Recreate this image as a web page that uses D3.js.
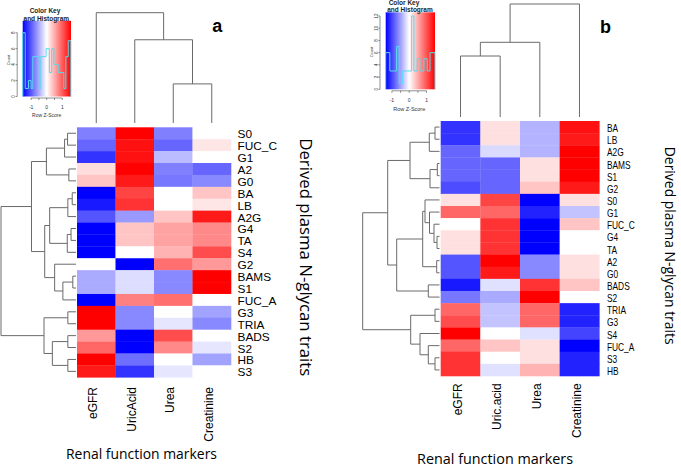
<!DOCTYPE html>
<html><head><meta charset="utf-8">
<script src="https://cdn.jsdelivr.net/npm/d3@7"></script>
<style>body{margin:0;background:#fff}svg{display:block}</style>
</head><body>
<svg id="c" width="681" height="468"></svg>
<script>
// ---------- Panel a data ----------
const colsA = ["eGFR","UricAcid","Urea","Creatinine"];
const rowsA = ["S0","FUC_C","G1","A2","G0","BA","LB","A2G","G4","TA","S4","G2","BAMS","S1","FUC_A","G3","TRIA","BADS","S2","HB","S3"];
const valsA = [
 [-0.75, 1.5, -0.75, 0],
 [-0.9, 1.4, -0.9, 0.15],
 [-1.2, 1.4, -0.4, 0],
 [0.2, 1.5, -0.75, -0.9],
 [0.35, 1.35, -0.8, -0.7],
 [-1.5, 1.1, 0, 0.35],
 [-1.35, 1.2, 0, 0.15],
 [-1.0, -0.6, 0.35, 1.35],
 [-1.5, 0.35, 0.55, 0.7],
 [-1.5, 0.35, 0.55, 0.7],
 [-1.5, 0, 0.45, 1.05],
 [0, -1.5, 0.85, 0.6],
 [-0.5, -0.2, -0.7, 1.5],
 [-0.5, -0.2, -0.7, 1.5],
 [-1.5, 0.75, 0.85, 0],
 [1.5, -0.7, 0, -0.55],
 [1.5, -0.7, -0.15, -0.7],
 [0.6, -1.5, 1.05, 0],
 [0.9, -1.5, 0.7, -0.15],
 [1.5, -0.85, 0, -0.55],
 [1.35, -1.2, -0.15, 0]
];
// dendrograms: [height, left, right]
const rowTreeA = [75.5,
  [44.8,
    [29.8, [11.5, [8.5,"S0","FUC_C"], "G1"], [7.2,"A2","G0"]],
    [31.5,
      [26.5, [8.2,[3.8,"BA","LB"],"A2G"], [8.8,[5,"G4","TA"],"S4"]],
      [21.5, "G2", [13.2,[3.2,"BAMS","S1"],"FUC_A"]]]],
  [32.2, [8.2,"G3","TRIA"], [23.8,[8.2,"BADS","S2"],[8.2,"HB","S3"]]]];
const colTreeA = [110, "eGFR", [83, "UricAcid", [39, "Urea", "Creatinine"]]];
const histEdgesA = [-1.53,-1.38,-1.17,-1.0,-0.89,-0.47,-0.38,-0.04,0.17,0.32,0.46,0.74,1.1,1.23,1.38,1.55];
const histCountsA = [8,1,2,1,5,1,5,6,3,6,4,3,1,5,7];
const keyTicksYA = [0,2,4,6,8];

// ---------- Panel b data ----------
const colsB = ["eGFR","Uric.acid","Urea","Creatinine"];
const rowsB = ["BA","LB","A2G","BAMS","S1","G2","S0","G1","FUC_C","G4","TA","A2","G0","BADS","S2","TRIA","G3","S4","FUC_A","S3","HB"];
const valsB = [
 [-1.2, 0.18, -0.45, 1.4],
 [-1.2, 0.18, -0.45, 1.35],
 [-0.9, -0.22, -0.45, 1.5],
 [-0.9, -0.9, 0.18, 1.5],
 [-0.9, -0.9, 0.18, 1.5],
 [-1.05, -0.9, 0.35, 1.35],
 [0.18, 1.1, -1.5, 0.18],
 [0.9, 0.9, -1.3, -0.35],
 [0, 1.2, -1.5, 0.35],
 [0.18, 1.2, -1.5, 0],
 [0.18, 1.2, -1.5, 0],
 [-1.0, 1.5, -0.7, 0.18],
 [-1.0, 1.35, -0.7, 0.18],
 [-1.35, -0.18, 1.2, 0.35],
 [-0.8, -0.5, 1.5, 0],
 [0.9, -0.35, 0.9, -1.3],
 [1.05, -0.35, 0.9, -1.3],
 [1.5, 0, -0.18, -1.1],
 [0.9, 0.35, 0.18, -1.5],
 [1.2, 0, 0.18, -1.3],
 [1.2, -0.18, 0.45, -1.3]
];
const rowTreeB = [76.8,
  [51.8,
    [29.5, [10.2,[4.5,"BA","LB"],"A2G"], [9.5,[2.2,"BAMS","S1"],"G2"]],
    [42.8,
      [16.8, [14.5,"S0",[10,"G1",[5.5,"FUC_C",[2.5,"G4","TA"]]]], [2.8,"A2","G0"]],
      [11.2,"BADS","S2"]]],
  [28.8, [4.5,"TRIA","G3"], [19.5,"S4",[11.2,"FUC_A",[4.5,"S3","HB"]]]]];
const colTreeB = [113, [74.7, [61, "eGFR", "Uric.acid"], "Urea"], "Creatinine"];
const histEdgesB = [-1.36,-1.12,-0.73,-0.58,-0.38,-0.25,0.14,0.27,0.46,0.62,0.85,1.04,1.2,1.49];
const histCountsB = [6,3,7,1,3,3,12,3,5,3,5,3,6];
const keyTicksYB = [0,2,4,6,8,10,12];

const keyTicksX = [-1,-0.5,0,0.5,1];
const xTitle = "Renal function markers";
const yTitle = "Derived plasma N-glycan traits";

// ---------- drawing ----------
const svg = d3.select("#c");
const color = d3.scaleLinear().domain([-1.5,0,1.5]).range(["#0000ff","#ffffff","#ff0000"]).clamp(true);
const LF = "Liberation Sans, Arial, sans-serif";
const DC = "#6a6a6a";
const defs = svg.append("defs");

function heat(cfg){
  const x = d3.scaleBand().domain(cfg.cols).range(cfg.xr);
  const y = d3.scaleBand().domain(cfg.rows).range(cfg.yr);
  const g = svg.append("g");
  cfg.rows.forEach((r,i)=>{
    cfg.cols.forEach((c,j)=>{
      g.append("rect").attr("x",x(c)).attr("y",y(r))
       .attr("width",x.bandwidth()+0.3).attr("height",y.bandwidth()+0.3)
       .attr("fill",color(cfg.vals[i][j]));
    });
  });
  // row labels
  cfg.rows.forEach(r=>{
    g.append("text").attr("transform",`translate(${cfg.labX},${y(r)+y.bandwidth()/2+cfg.labDy}) scale(${cfg.labSx},1)`)
     .attr("font-family",LF).attr("font-size",cfg.labFs).attr("fill","#000").text(r);
  });
  // column labels
  cfg.cols.forEach(c=>{
    g.append("text").attr("transform",`translate(${x(c)+x.bandwidth()/2+cfg.colDx},${cfg.colTop}) rotate(-90)`)
     .attr("text-anchor","end").attr("font-family",LF).attr("font-size",12).attr("fill","#000").text(c);
  });
  // row dendrogram
  const rx = d3.scaleLinear().domain([0,cfg.rowTree[0]]).range(cfg.rdx);
  const yOf = n => y(n)+y.bandwidth()/2;
  let d = "";
  (function rec(node){
    if (typeof node === "string") return {p:yOf(node),h:0};
    const a = rec(node[1]), b = rec(node[2]);
    d += `M${rx(a.h)},${a.p}H${rx(node[0])}V${b.p}H${rx(b.h)}`;
    return {p:(a.p+b.p)/2,h:node[0]};
  })(cfg.rowTree);
  g.append("path").attr("d",d).attr("fill","none").attr("stroke",DC).attr("stroke-width",1);
  // column dendrogram
  const cy = d3.scaleLinear().domain([0,cfg.colTree[0]]).range(cfg.cdy);
  const xOf = n => x(n)+x.bandwidth()/2;
  let d2 = "";
  (function rec(node){
    if (typeof node === "string") return {p:xOf(node),h:0};
    const a = rec(node[1]), b = rec(node[2]);
    d2 += `M${a.p},${cy(a.h)}V${cy(node[0])}H${b.p}V${cy(b.h)}`;
    return {p:(a.p+b.p)/2,h:node[0]};
  })(cfg.colTree);
  g.append("path").attr("d",d2).attr("fill","none").attr("stroke",DC).attr("stroke-width",1);
}

function key(cfg){
  const g = svg.append("g");
  const kx = d3.scaleLinear().domain(cfg.zr).range(cfg.bx);
  const ky = d3.scaleLinear().domain([0,cfg.cmax]).range(cfg.by);
  const gid = "grad"+cfg.id;
  const gr = defs.append("linearGradient").attr("id",gid);
  const z0 = (kx(0)-cfg.bx[0])/(cfg.bx[1]-cfg.bx[0]);
  gr.append("stop").attr("offset",0).attr("stop-color","#0000ff");
  gr.append("stop").attr("offset",z0).attr("stop-color","#ffffff");
  gr.append("stop").attr("offset",1).attr("stop-color","#ff0000");
  g.append("rect").attr("x",cfg.bx[0]).attr("y",ky(cfg.boxTop)).attr("width",cfg.bx[1]-cfg.bx[0])
   .attr("height",ky(0)-ky(cfg.boxTop)).attr("fill",`url(#${gid})`);
  // histogram step
  let d = `M${kx(cfg.edges[0])},${ky(0)}`;
  cfg.counts.forEach((c,i)=>{ d += `V${ky(c)}H${kx(cfg.edges[i+1])}`; });
  d += `V${ky(0)}`;
  g.append("path").attr("d",d).attr("fill","none").attr("stroke","#55dcec").attr("stroke-width",1);
  // x axis
  const ay = ky(0)+cfg.axOff;
  g.append("line").attr("x1",kx(-1)).attr("x2",kx(1)).attr("y1",ay).attr("y2",ay).attr("stroke","#444").attr("stroke-width",0.6);
  keyTicksX.forEach(t=>{
    g.append("line").attr("x1",kx(t)).attr("x2",kx(t)).attr("y1",ay).attr("y2",ay+2).attr("stroke","#444").attr("stroke-width",0.6);
    if (Number.isInteger(t)) g.append("text").attr("x",kx(t)).attr("y",cfg.xlabY).attr("text-anchor","middle")
      .attr("font-family",LF).attr("font-size",5).attr("fill","#333").text(t===-1?"-1":String(t));
  });
  g.append("text").attr("x",(kx(-1)+kx(1))/2).attr("y",cfg.ztY).attr("text-anchor","middle")
   .attr("font-family",LF).attr("font-size",cfg.ztFs).attr("fill","#333").text("Row Z-Score");
  // y axis
  const ax = cfg.bx[0]-cfg.ayOff;
  const tk = cfg.yticks;
  g.append("line").attr("x1",ax).attr("x2",ax).attr("y1",ky(tk[0])).attr("y2",ky(tk[tk.length-1])).attr("stroke","#444").attr("stroke-width",0.6);
  tk.forEach(t=>{
    g.append("line").attr("x1",ax).attr("x2",ax-1.5).attr("y1",ky(t)).attr("y2",ky(t)).attr("stroke","#444").attr("stroke-width",0.6);
    g.append("text").attr("transform",`translate(${ax-2.5},${ky(t)}) rotate(-90)`).attr("text-anchor","middle")
     .attr("font-family",LF).attr("font-size",4.5).attr("fill","#333").text(t);
  });
  g.append("text").attr("transform",`translate(${cfg.countX},${cfg.countY}) rotate(-90)`).attr("text-anchor","middle")
   .attr("font-family",LF).attr("font-size",4).attr("fill","#333").text("Count");
  g.append("text").attr("x",cfg.t1[0]).attr("y",cfg.t1[1]).attr("text-anchor","middle").attr("font-weight","bold")
   .attr("font-family",LF).attr("font-size",6.5).attr("fill","#222").text("Color Key");
  g.append("text").attr("x",cfg.t2[0]).attr("y",cfg.t2[1]).attr("text-anchor","middle").attr("font-weight","bold")
   .attr("font-family",LF).attr("font-size",6.5).attr("fill","#222").text("and Histogram");
}

heat({cols:colsA, rows:rowsA, vals:valsA, xr:[77,231], yr:[127.3,377.3],
  labX:237.5, labDy:5, labSx:1.04, labFs:11.4, colDx:0.8, colTop:387,
  rowTree:rowTreeA, rdx:[76,1], colTree:colTreeA, cdy:[123,12.7]});
heat({cols:colsB, rows:rowsB, vals:valsB, xr:[440.7,599.3], yr:[121,376],
  labX:607, labDy:5, labSx:0.78, labFs:10.7, colDx:1.2, colTop:383.3,
  rowTree:rowTreeB, rdx:[439.5,362.7], colTree:colTreeB, cdy:[117,4]});

key({id:"a", zr:[-1.54,1.56], bx:[22.7,71], cmax:8, by:[96.5,32.7], boxTop:9.5,
  edges:histEdgesA, counts:histCountsA, axOff:1.5, xlabY:108.5, ztY:117, ztFs:5,
  ayOff:5.5, yticks:keyTicksYA, countX:10, countY:60, t1:[45,13.3], t2:[46.3,20.7]});
key({id:"b", zr:[-1.36,1.49], bx:[385.7,435], cmax:12, by:[89.3,16], boxTop:12.6,
  edges:histEdgesB, counts:histCountsB, axOff:1.5, xlabY:101.5, ztY:110.5, ztFs:5.5,
  ayOff:5.7, yticks:keyTicksYB, countX:372.5, countY:52, t1:[404,5], t2:[410,12]});

// panel letters
svg.append("text").attr("x",212.3).attr("y",32.3).attr("font-family",LF).attr("font-weight","bold").attr("font-size",18).text("a");
svg.append("text").attr("x",600).attr("y",32.7).attr("font-family",LF).attr("font-weight","bold").attr("font-size",18).text("b");

// axis titles
const TF = "Open Sans, Lato, sans-serif";
svg.append("text").attr("x",66).attr("y",459).attr("font-family",TF).attr("font-size",15)
  .attr("textLength",151).attr("lengthAdjust","spacingAndGlyphs").text(xTitle);
svg.append("text").attr("x",417).attr("y",464).attr("font-family",TF).attr("font-size",14.5)
  .attr("textLength",156).attr("lengthAdjust","spacingAndGlyphs").text(xTitle);
svg.append("text").attr("transform","translate(300,138.3) rotate(90)").attr("font-family",TF).attr("font-size",17)
  .attr("textLength",238).attr("lengthAdjust","spacingAndGlyphs").text(yTitle);
svg.append("text").attr("transform","translate(664.5,146.7) rotate(90)").attr("font-family",TF).attr("font-size",15)
  .attr("textLength",198).attr("lengthAdjust","spacingAndGlyphs").text(yTitle);
</script>
</body></html>
